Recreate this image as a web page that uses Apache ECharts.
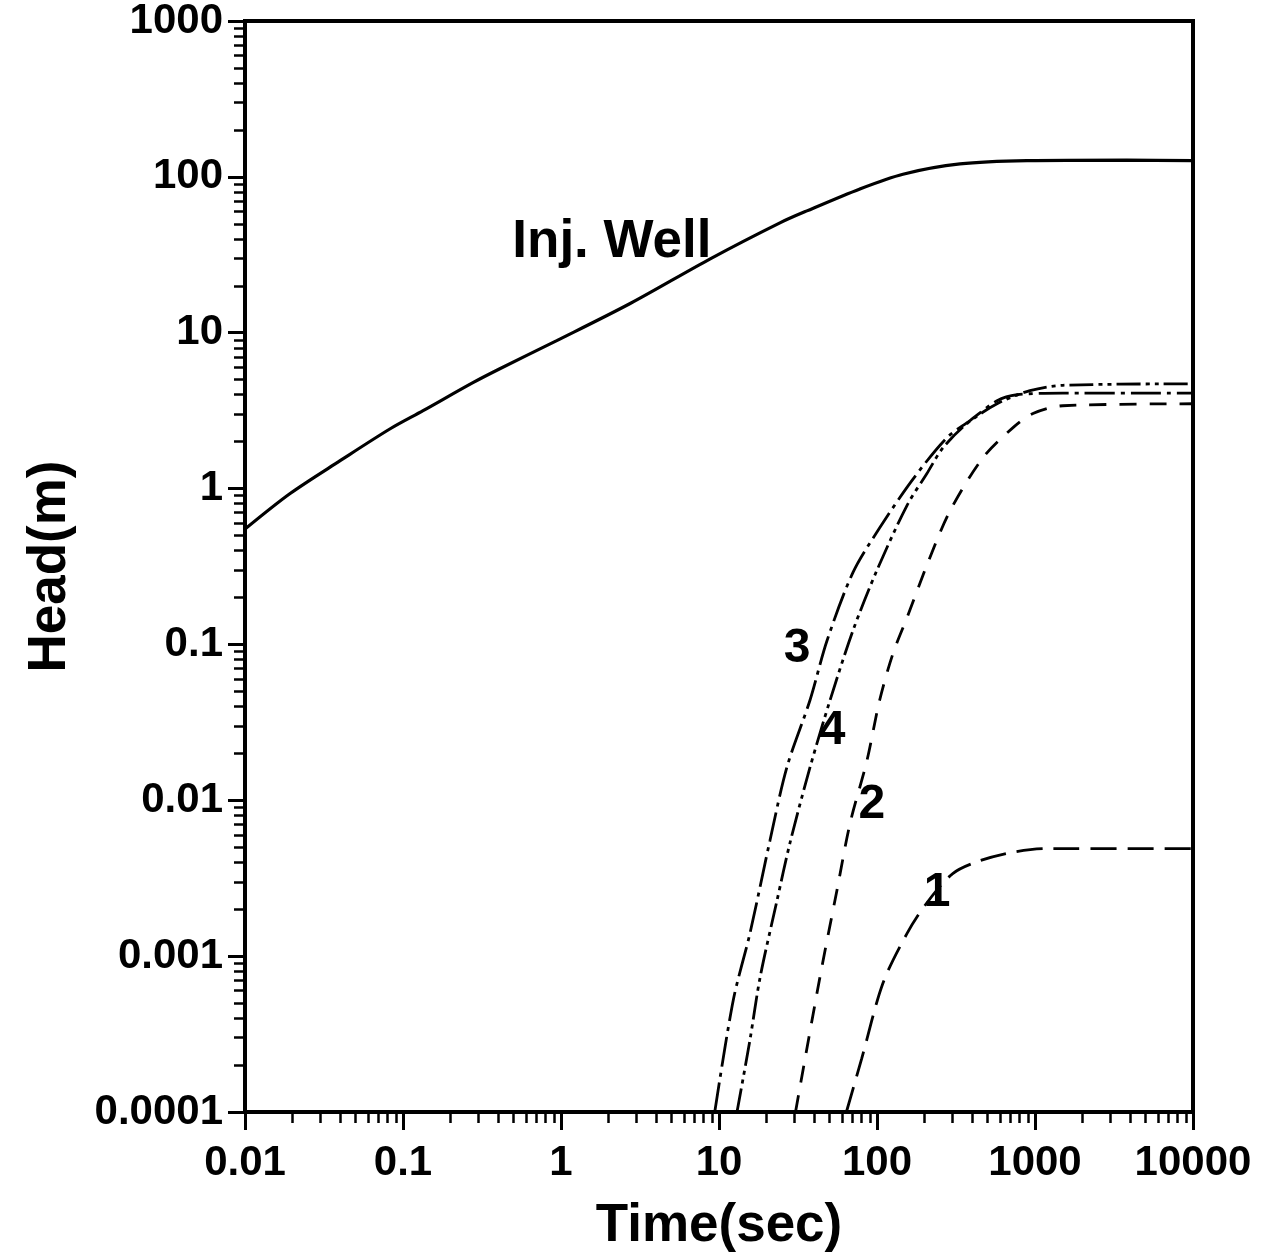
<!DOCTYPE html>
<html><head><meta charset="utf-8">
<script src="https://cdn.jsdelivr.net/npm/echarts@6/dist/echarts.min.js"></script>
<style>html,body{margin:0;padding:0;background:#fff}#c{width:1263px;height:1260px}</style>
</head><body><div id="c"></div>
<script>
const FONT = "'Liberation Sans', Arial, Helvetica, sans-serif";

// tick values / labels
const xMajor = [0.01, 0.1, 1, 10, 100, 1000, 10000];
const xTickLabels = ['0.01', '0.1', '1', '10', '100', '1000', '10000'];
const yMajor = [0.0001, 0.001, 0.01, 0.1, 1, 10, 100, 1000];
const yTickLabels = ['0.0001', '0.001', '0.01', '0.1', '1', '10', '100', '1000'];
const minorMult = [2, 3, 4, 5, 6, 7, 8, 9];

// Injection well
const injT = [0.01, 0.0193, 0.04, 0.083, 0.134, 0.277, 0.41, 0.94, 2.74, 8.8, 24.3, 36, 78, 146, 335, 890, 3800, 10000];
const injH = [0.55, 0.93, 1.51, 2.42, 3.16, 4.78, 5.87, 8.9, 15.4, 29.8, 50.7, 60.5, 83.7, 104, 121, 127, 128, 127];

// Observation point 1
const c1T = [64, 80, 109, 155, 207, 303, 449, 726, 1190, 10000];
const c1H = [0.0001, 0.00022, 0.00067, 0.0014, 0.0022, 0.0034, 0.0041, 0.00465, 0.0049, 0.0049];

// Observation point 2
const c2T = [30.5, 43.5, 55.8, 67.5, 86.4, 104, 126, 155, 216, 290, 469, 726, 971, 1500, 10000];
const c2H = [0.0001, 0.00073, 0.00265, 0.0071, 0.018, 0.044, 0.087, 0.149, 0.36, 0.72, 1.58, 2.46, 3.03, 3.4, 3.5];

// Observation point 3
const c3T = [9.4, 12.3, 15.7, 21, 26.9, 37.7, 48.3, 70.5, 104, 169, 277, 388, 575, 769, 1500, 10000];
const c3H = [0.0001, 0.00052, 0.0014, 0.0055, 0.0163, 0.044, 0.106, 0.29, 0.56, 1.15, 2.12, 2.73, 3.66, 4.0, 4.1, 4.1];

// Observation point 4
const c4T = [13, 15.7, 18.2, 23.3, 28.1, 37.7, 50.5, 70.5, 100, 155, 207, 262, 371, 575, 929, 1500, 10000];
const c4H = [0.0001, 0.00029, 0.00073, 0.00228, 0.0053, 0.0163, 0.044, 0.123, 0.30, 0.78, 1.25, 1.83, 2.61, 3.5, 4.25, 4.6, 4.7];

// annotations
const noteText = ['Inj. Well', '3', '4', '2', '1'];
const noteT = [2.1, 31.2, 51.9, 92.9, 240];
const noteH = [37.8, 0.094, 0.0281, 0.0093, 0.00254];

function minorValues(major) {
  const out = [];
  for (let i = 0; i < major.length - 1; i++) {
    minorMult.forEach(m => out.push(+(m * major[i]).toPrecision(6)));
  }
  return out;
}
const xMinor = minorValues(xMajor);
const yMinor = minorValues(yMajor);

function pairs(t, h) { return t.map((v, i) => [v, h[i]]); }
function lbl(major, labels) {
  return v => {
    let best = 0, bd = Infinity;
    major.forEach((m, i) => { const d = Math.abs(Math.log10(m) - Math.log10(v)); if (d < bd) { bd = d; best = i; } });
    return labels[best];
  };
}

const tickFont = { fontFamily: FONT, fontWeight: 'bold', fontSize: 42, color: '#000' };
const nameFont = { fontFamily: FONT, fontWeight: 'bold', fontSize: 53, color: '#000' };

function lineSeries(name, data, width, dash) {
  return {
    name, type: 'line', data, symbol: 'none', smooth: 0.3,
    xAxisIndex: 0, yAxisIndex: 0,
    lineStyle: { color: '#000', width, type: dash, cap: 'butt' },
    emphasis: { disabled: true }, z: 3
  };
}

const chart = echarts.init(document.getElementById('c'), null, { renderer: 'canvas' });
chart.setOption({
  backgroundColor: '#fff',
  animation: false,
  grid: { left: 245, right: 70, top: 20, bottom: 148, show: true, borderColor: '#000', borderWidth: 4, backgroundColor: 'transparent' },
  xAxis: [
    {
      type: 'log', logBase: 10, min: 0.01, max: 10000, position: 'bottom',
      axisLine: { show: true, lineStyle: { color: '#000', width: 4 } },
      axisTick: { show: true, inside: false, length: 18, customValues: xMajor, lineStyle: { color: '#000', width: 3 } },
      minorTick: { show: false }, splitLine: { show: false },
      axisLabel: Object.assign({ margin: 30, customValues: xMajor, formatter: lbl(xMajor, xTickLabels) }, tickFont),
      name: 'Time(sec)', nameLocation: 'middle', nameGap: 88, nameTextStyle: nameFont
    },
    {
      type: 'log', logBase: 10, min: 0.01, max: 10000, position: 'bottom',
      axisLine: { show: false },
      axisTick: { show: true, inside: false, length: 11, customValues: xMinor, lineStyle: { color: '#000', width: 2.5 } },
      axisLabel: { show: false }, splitLine: { show: false }
    }
  ],
  yAxis: [
    {
      type: 'log', logBase: 10, min: 0.0001, max: 1000, position: 'left',
      axisLine: { show: true, lineStyle: { color: '#000', width: 4 } },
      axisTick: { show: true, inside: false, length: 17, customValues: yMajor, lineStyle: { color: '#000', width: 3 } },
      minorTick: { show: false }, splitLine: { show: false },
      axisLabel: Object.assign({ margin: 22, customValues: yMajor, formatter: lbl(yMajor, yTickLabels) }, tickFont),
      name: 'Head(m)', nameLocation: 'middle', nameGap: 168, nameRotate: 90, nameTextStyle: nameFont
    },
    {
      type: 'log', logBase: 10, min: 0.0001, max: 1000, position: 'left',
      axisLine: { show: false },
      axisTick: { show: true, inside: false, length: 11, customValues: yMinor, lineStyle: { color: '#000', width: 2.5 } },
      axisLabel: { show: false }, splitLine: { show: false }
    }
  ],
  series: [
    lineSeries('Inj. Well', pairs(injT, injH), 3.2, 'solid'),
    lineSeries('1', pairs(c1T, c1H), 2.8, [26, 11]),
    lineSeries('2', pairs(c2T, c2H), 2.8, [17, 13]),
    lineSeries('3', pairs(c3T, c3H), 2.8, [30, 6, 4, 6]),
    lineSeries('4', pairs(c4T, c4H), 2.8, [24, 5, 4, 5, 4, 5]),
    {
      type: 'scatter', xAxisIndex: 0, yAxisIndex: 0, symbolSize: 1, z: 5,
      itemStyle: { color: '#fff', opacity: 0 },
      data: noteT.map((t, i) => ({ value: [t, noteH[i]], name: noteText[i], label: { fontSize: i === 0 ? 53 : 48 } })),
      label: { show: true, position: 'inside', formatter: p => p.name, fontFamily: FONT, fontWeight: 'bold', color: '#000', opacity: 1, textBorderWidth: 0 },
      emphasis: { disabled: true }, silent: true
    }
  ]
});
</script>
</body></html>
